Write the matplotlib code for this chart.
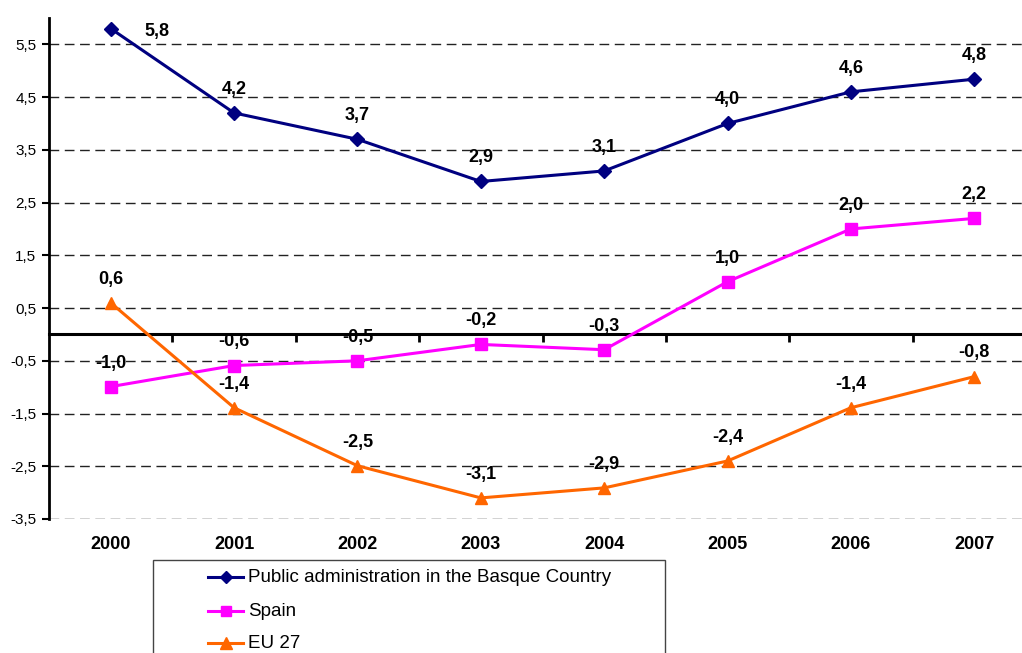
import matplotlib.pyplot as plt
from matplotlib.lines import Line2D
from matplotlib.patches import Rectangle

plt.rcParams['font.family'] = ['Liberation Sans', 'DejaVu Sans']

#---------------------------------------------------------------------------------------------
# Data
years = ["2000", "2001", "2002", "2003", "2004", "2005", "2006", "2007"]
basque = [5.8, 4.2, 3.7, 2.9, 3.1, 4.0, 4.6, 4.84]
spain = [-0.99, -0.59, -0.5, -0.19, -0.29, 1.0, 2.0, 2.2]
eu27 = [0.6, -1.39, -2.49, -3.1, -2.91, -2.4, -1.39, -0.8]

names = ["Public administration in the Basque Country", "Spain", "EU 27"]
colors = ["#000080", "#FF00FF", "#FF6600"]
markers = ["D", "s", "^"]
msizes = [7.5, 8.5, 9]
yticks = [-3.5, -2.5, -1.5, -0.5, 0.5, 1.5, 2.5, 3.5, 4.5, 5.5]

#---------------------------------------------------------------------------------------------
fig = plt.figure(figsize=(10.22, 6.53), dpi=100)
ax = fig.add_axes([49/1022, 134/653, 987/1022, 501/653])

x = list(range(len(years)))
ax.set_xlim(-0.5, len(years) - 0.5)
ax.set_ylim(-3.5, 6.0)

# dashed grid
for yv in yticks:
    ax.axhline(yv, color="#222222", lw=1.0, ls=(0, (7, 4)), zorder=1)

series = [basque, spain, eu27]
for vals, col, mk, ms in zip(series, colors, markers, msizes):
    ax.plot(x, vals, color=col, lw=2.2, marker=mk, markersize=ms, zorder=3, clip_on=False)

# data labels
for k, vals in enumerate(series):
    for i, v in enumerate(vals):
        txt = ("%.1f" % v).replace(".", ",")
        if k == 0 and i == 0:
            off = (33, -2)
        else:
            off = (0, 17)
        ax.annotate(txt, (i, v), xytext=off, textcoords="offset points",
                    ha="center", va="center", fontsize=13, fontweight="bold", zorder=4)

# spines / axes
for s in ["top", "right"]:
    ax.spines[s].set_visible(False)
ax.spines["left"].set_linewidth(2)
ax.spines["bottom"].set_position(("data", 0))
ax.spines["bottom"].set_linewidth(2.2)
ax.spines["bottom"].set_zorder(2)

ax.set_yticks(yticks)
ax.set_yticklabels([("%.1f" % v).replace(".", ",") for v in yticks], fontsize=11)
ax.tick_params(axis="y", direction="out", length=5, width=1.5, pad=4)

ax.set_xticks(x)
ax.set_xticklabels([])
ax.tick_params(axis="x", which="major", length=0)
ax.set_xticks([i + 0.5 for i in x[:-1]], minor=True)
ax.tick_params(axis="x", which="minor", direction="out", length=6, width=2)

sec = ax.secondary_xaxis(0)
sec.set_xticks(x)
sec.set_xticklabels(years, fontsize=13, fontweight="bold")
sec.tick_params(length=0, pad=12)
sec.spines["bottom"].set_visible(False)

#---------------------------------------------------------------------------------------------
# Legend box (extends past the bottom edge)
W, H = 1022.0, 653.0
fig.patches.append(Rectangle((153/W, -0.05), (665-153)/W, (653-560)/H + 0.05,
                             transform=fig.transFigure, fill=False,
                             edgecolor="#444444", lw=1.0))
rows = [577, 611, 643]
for name, col, mk, ms, yy in zip(names, colors, markers, msizes, rows):
    fig.lines.append(Line2D([208/W, 243/W], [1 - yy/H, 1 - yy/H], transform=fig.transFigure,
                            color=col, lw=2.2))
    fig.lines.append(Line2D([225.5/W], [1 - yy/H], transform=fig.transFigure,
                            color=col, marker=mk, markersize=ms - 1, lw=0))
    fig.text(248/W, 1 - yy/H, name, fontsize=13.5, va="center", ha="left")

plt.savefig("out.png", dpi=100)
